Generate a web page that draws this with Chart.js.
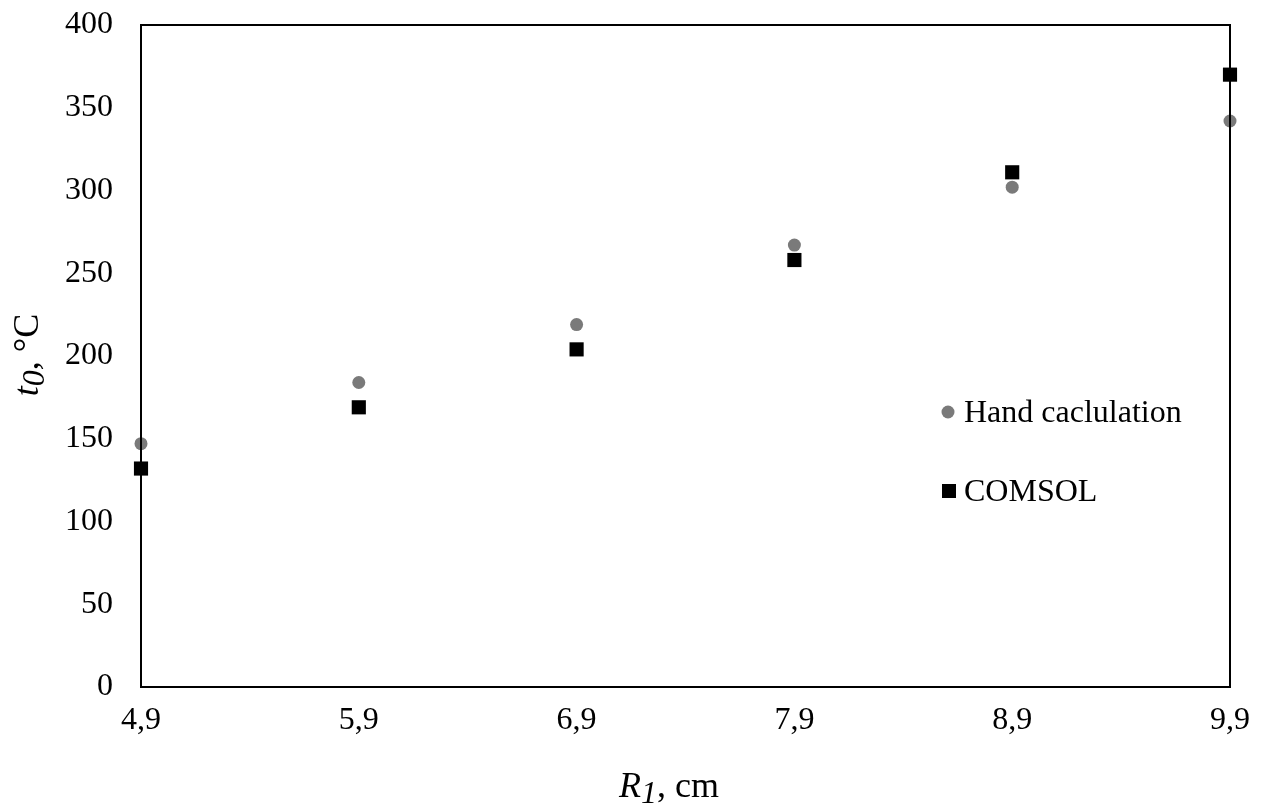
<!DOCTYPE html>
<html>
<head>
<meta charset="utf-8">
<script src="https://cdn.jsdelivr.net/npm/chart.js@4/dist/chart.umd.min.js"></script>
<style>
html,body{margin:0;padding:0;background:#fff;}
#wrap{width:1267px;height:806px;position:relative;}
</style>
</head>
<body>
<div id="wrap"><canvas id="c" width="1267" height="806"></canvas></div>
<script>
const radii = [4.9, 5.9, 6.9, 7.9, 8.9, 9.9];
const handCalc = [147, 184, 219, 267, 302, 342];
const comsol = [132, 169, 204, 258, 311, 370];
const xTicks = [4.9, 5.9, 6.9, 7.9, 8.9, 9.9];
const yTicks = [0, 50, 100, 150, 200, 250, 300, 350, 400];
const seriesNames = ['Hand caclulation', 'COMSOL'];

const FONT = '"Liberation Serif", "Times New Roman", serif';
const GRAY = '#7a7a7a';

function richText(ctx, segs, x, y) {
  let total = 0;
  segs.forEach(s => {
    ctx.font = (s.italic ? 'italic ' : '') + s.size + 'px ' + FONT;
    s.w = ctx.measureText(s.text).width;
    total += s.w;
  });
  let cx = x - total / 2;
  segs.forEach(s => {
    ctx.font = (s.italic ? 'italic ' : '') + s.size + 'px ' + FONT;
    ctx.fillText(s.text, cx, y + (s.dy || 0));
    cx += s.w;
  });
}

const deco = {
  id: 'deco',
  afterDraw(chart) {
    const ctx = chart.ctx;
    const a = chart.chartArea;
    ctx.save();
    ctx.strokeStyle = '#000';
    ctx.lineWidth = 2;
    ctx.strokeRect(a.left, a.top, a.right - a.left, a.bottom - a.top);
    ctx.fillStyle = '#000';
    ctx.textBaseline = 'alphabetic';
    ctx.textAlign = 'left';
    // x title
    richText(ctx, [
      {text: 'R', italic: true, size: 36},
      {text: '1', italic: true, size: 32, dy: 6},
      {text: ', cm', italic: false, size: 36}
    ], 669, 797);
    // y title
    ctx.save();
    ctx.translate(38, 355);
    ctx.rotate(-Math.PI / 2);
    richText(ctx, [
      {text: 't', italic: true, size: 36},
      {text: '0', italic: true, size: 32, dy: 6},
      {text: ', °C', italic: false, size: 36}
    ], 0, 0);
    ctx.restore();
    // legend
    ctx.font = '32px ' + FONT;
    ctx.textBaseline = 'middle';
    ctx.fillStyle = GRAY;
    ctx.beginPath();
    ctx.arc(948, 412, 6.5, 0, Math.PI * 2);
    ctx.fill();
    ctx.fillStyle = '#000';
    ctx.fillText(seriesNames[0], 964, 414);
    ctx.fillRect(949 - 7, 491 - 7, 14, 14);
    ctx.fillText(seriesNames[1], 964, 493);
    ctx.restore();
  }
};

new Chart(document.getElementById('c'), {
  type: 'scatter',
  data: {
    datasets: [
      {
        label: seriesNames[0],
        data: radii.map((r, i) => ({x: r, y: handCalc[i]})),
        pointStyle: 'circle',
        pointRadius: 6.5,
        pointBackgroundColor: GRAY,
        pointBorderWidth: 0,
        clip: false
      },
      {
        label: seriesNames[1],
        data: radii.map((r, i) => ({x: r, y: comsol[i]})),
        pointStyle: 'rect',
        pointRadius: 10,
        pointBackgroundColor: '#000',
        pointBorderWidth: 0,
        clip: false
      }
    ]
  },
  options: {
    responsive: false,
    maintainAspectRatio: false,
    animation: false,
    events: [],
    layout: {autoPadding: false, padding: {top: 25, right: 37, left: 0, bottom: 0}},
    plugins: {legend: {display: false}, tooltip: {enabled: false}},
    scales: {
      x: {
        type: 'linear',
        min: xTicks[0],
        max: xTicks[xTicks.length - 1],
        afterBuildTicks: s => { s.ticks = xTicks.map(v => ({value: v})); },
        afterFit: s => { s.height = 119; },
        grid: {display: false, drawTicks: false},
        border: {display: false},
        ticks: {
          color: '#000',
          font: {family: FONT, size: 32},
          padding: 14,
          maxRotation: 0,
          autoSkip: false,
          callback: v => v.toFixed(1).replace('.', ',')
        }
      },
      y: {
        min: yTicks[0],
        max: yTicks[yTicks.length - 1],
        afterBuildTicks: s => { s.ticks = yTicks.map(v => ({value: v})); },
        afterFit: s => { s.width = 141; s.paddingTop = 0; s.paddingBottom = 0; },
        grid: {display: false, drawTicks: false},
        border: {display: false},
        ticks: {
          color: '#000',
          font: {family: FONT, size: 32},
          padding: 28,
          callback: v => String(v)
        }
      }
    }
  },
  plugins: [deco]
});
</script>
</body>
</html>
